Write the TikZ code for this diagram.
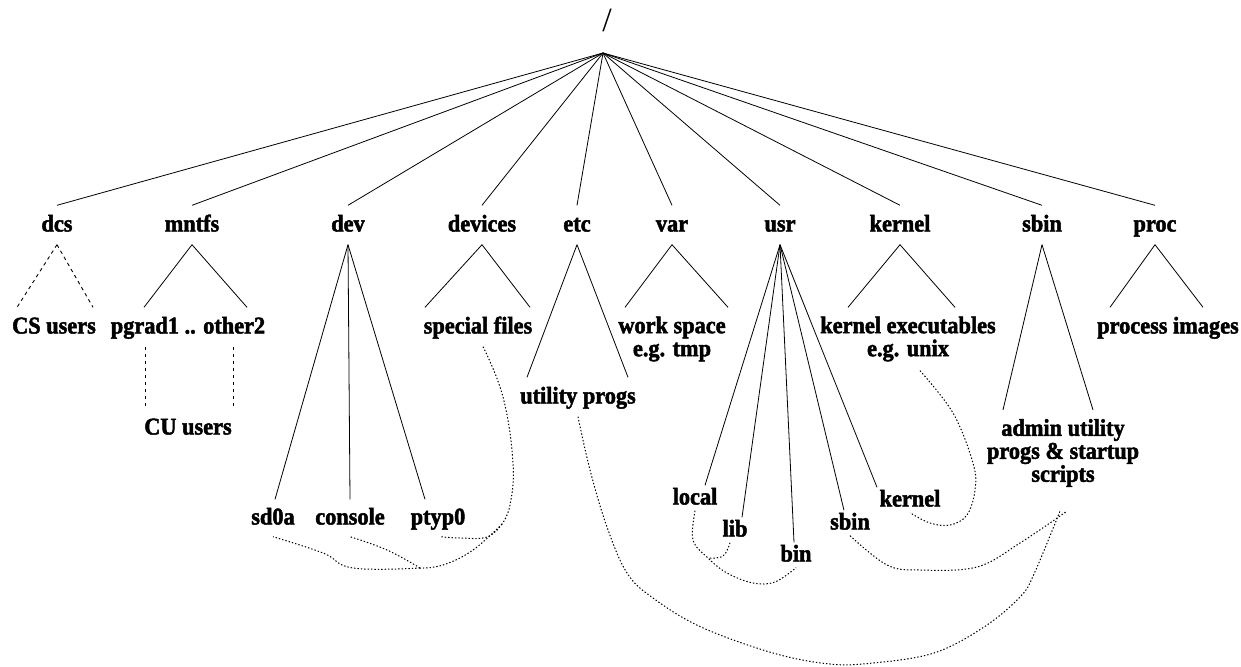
\documentclass[tikz,border=0pt]{standalone}
\usepackage{fontspec}
\setmainfont{Liberation Serif}
\newfontfamily\lblfont{Liberation Serif}[FakeStretch=0.93, BoldFeatures={FakeBold=2}]
\begin{document}
\begin{tikzpicture}[x=1pt,y=-1pt,
  lbl/.style={font=\fontsize{24}{23}\lblfont\bfseries, inner xsep=0pt, inner ysep=11pt, text height=15pt, text depth=2pt},
  ulbl/.style={lbl, inner ysep=4pt},
  mlbl/.style={font=\fontsize{24}{23}\lblfont\bfseries, inner xsep=0pt, inner ysep=9pt, align=center},
  tree/.style={line width=0.8pt},
  dsh/.style={line width=0.9pt, dash pattern=on 3.5pt off 3.5pt},
  dot/.style={line width=1pt, dash pattern=on 1.4pt off 2pt}]
\useasboundingbox (0,0) rectangle (1241,666);
\fill[white] (0,0) rectangle (1241,666);

% root
\node[font=\fontsize{34}{34}\selectfont, inner sep=0pt] (rootlbl) at (607,20) {/};
\coordinate (root) at (603,53);

% first level
\node[lbl] (dcs) at (57,225) {dcs};
\node[lbl] (mntfs) at (192,225) {mntfs};
\node[lbl] (dev) at (348,225) {dev};
\node[lbl] (devices) at (482,225) {devices};
\node[lbl] (etc) at (577,225) {etc};
\node[lbl] (var) at (672,225) {var};
\node[lbl] (usr) at (780,225) {usr};
\node[lbl] (kernel) at (900,225) {kernel};
\node[lbl] (sbin) at (1042,225) {sbin};
\node[lbl] (proc) at (1155,225) {proc};

\foreach \n in {dcs,mntfs,dev,devices,etc,var,usr,kernel,sbin,proc}
  \draw[tree] (root) -- (\n.north);

% second level
\node[lbl] (csu) at (54,327) {CS users};
\node[lbl] (pg) at (188,327) {pgrad1 .. other2};
\node[lbl] (sf) at (478,327) {special files};
\node[mlbl] (ws) at (672,339) {work space\\e.g. tmp};
\node[mlbl] (ke) at (908,339) {kernel executables\\e.g. unix};
\node[lbl] (pi) at (1168,327) {process images};
\node[lbl] (up) at (578,397) {utility progs};
\node[lbl] (cu) at (188,428) {CU users};
\node[mlbl] (ad) at (1063,453) {admin utility\\progs \& startup\\scripts};

\node[lbl, inner ysep=10pt] (sd) at (273,518) {sd0a};
\node[lbl, inner ysep=10pt] (co) at (350,518) {console};
\node[lbl, inner ysep=10pt] (pt) at (438,518) {ptyp0};

\node[ulbl] (lo) at (695,498) {local};
\node[ulbl] (li) at (735,530) {lib};
\node[ulbl] (bi) at (796,555) {bin};
\node[ulbl] (sb) at (850,523) {sbin};
\node[ulbl] (k2) at (910,500) {kernel};

% subtree lines
\draw[dsh] (dcs.south) -- ([xshift=-37pt]csu.north);
\draw[dsh] (dcs.south) -- ([xshift=39pt]csu.north);
\draw[tree] (mntfs.south) -- ([xshift=-44pt]pg.north);
\draw[tree] (mntfs.south) -- ([xshift=59pt]pg.north);
\draw[dsh] ([xshift=-43pt]pg.south) -- ([xshift=-43pt]cu.north);
\draw[dsh] ([xshift=45pt]pg.south) -- ([xshift=45pt]cu.north);
\draw[tree] (dev.south) -- ([xshift=2pt]sd.north);
\draw[tree] (dev.south) -- (co.north);
\draw[tree] (dev.south) -- ([xshift=-13pt]pt.north);
\draw[tree] (devices.south) -- ([xshift=-53pt]sf.north);
\draw[tree] (devices.south) -- ([xshift=52pt]sf.north);
\draw[tree] (etc.south) -- ([xshift=-51pt]up.north);
\draw[tree] (etc.south) -- ([xshift=50pt]up.north);
\draw[tree] (var.south) -- ([xshift=-47pt]ws.north);
\draw[tree] (var.south) -- ([xshift=56pt]ws.north);
\draw[tree] (usr.south) -- ([xshift=10pt]lo.north);
\draw[tree] (usr.south) -- ([xshift=7pt]li.north);
\draw[tree] (usr.south) -- ([xshift=-2pt]bi.north);
\draw[tree] (usr.south) -- ([xshift=-6pt]sb.north);
\draw[tree] (usr.south) -- ([xshift=-33pt]k2.north);
\draw[tree] (kernel.south) -- ([xshift=-60pt]ke.north);
\draw[tree] (kernel.south) -- ([xshift=47pt]ke.north);
\draw[tree] (sbin.south) -- ([xshift=-60pt]ad.north);
\draw[tree] (sbin.south) -- ([xshift=30pt]ad.north);
\draw[tree] (proc.south) -- ([xshift=-58pt]pi.north);
\draw[tree] (proc.south) -- ([xshift=35pt]pi.north);

% dotted links
\coordinate (j1) at (502,524);
\coordinate (j2) at (420,568);
\coordinate (j3) at (708,558);
\draw[dot] plot[smooth, tension=0.7] coordinates {([xshift=5pt]sf.south) (503,397) (513,463) (510,505) (j1)};
\draw[dot] plot[smooth, tension=0.7] coordinates {(j1) (487,537) (460,538) ([xshift=2pt]pt.south)};
\draw[dot] plot[smooth, tension=0.7] coordinates {(j1) (473,550) (443,565) (j2)};
\draw[dot] plot[smooth, tension=0.7] coordinates {(j2) (353,568) (323,553) (sd.south)};
\draw[dot] plot[smooth, tension=0.7] coordinates {(j2) (387,550) (co.south)};

\draw[dot] plot[smooth, tension=0.6] coordinates {(up.south) (590,470) (607,527) (627,573) (653,598) (701,627) (773,653) (830,664) (873,663) (934,653) (984,627) (1020,597) (1034,574) ([xshift=-3pt,yshift=-15pt]ad.south)};

\draw[dot] plot[smooth, tension=0.6] coordinates {(sb.south) (887,565) (920,570) (977,567) (1020,543) ([xshift=4pt,yshift=-15pt]ad.south)};

\draw[dot] plot[smooth, tension=0.6] coordinates {([xshift=12pt]ke.south) (953,413) (973,463) (975,490) (967,515) (950,525) (930,523) (k2.south)};

\draw[dot] plot[smooth, tension=0.6] coordinates {(lo.south) (693,540) (j3) (727,573) (753,583) (775,582) (bi.south)};
\draw[dot] plot[smooth, tension=0.7] coordinates {([xshift=-5pt]li.south) (723,556) (j3)};
\end{tikzpicture}
\end{document}
